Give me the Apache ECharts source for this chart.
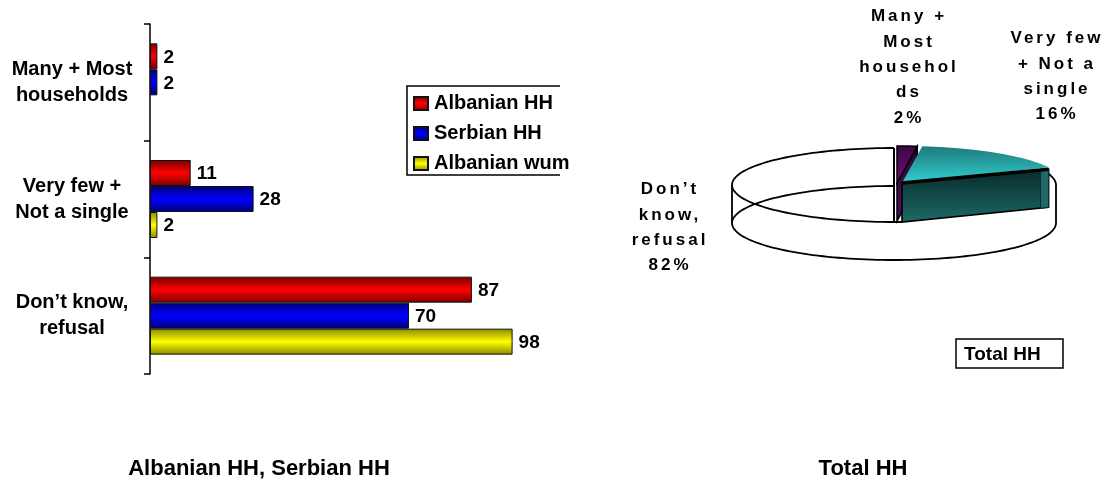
<!DOCTYPE html>
<html><head><meta charset="utf-8">
<style>html,body{margin:0;padding:0;background:#fff}#c{width:1107px;height:479px}</style>
<script src="https://cdn.jsdelivr.net/npm/echarts@6/dist/echarts.min.js"></script>
</head><body><div id="c"></div>
<script>
const categories = ['Many + Most\nhouseholds', 'Very few +\nNot a single', 'Don’t know,\nrefusal'];
const albanianHH = [2, 11, 87];
const serbianHH = [2, 28, 70];
const albanianWum = [null, 2, 98];
const pieNames = ['Many +\nMost\nhousehol\nds', 'Very few\n+ Not a\nsingle', 'Don’t\nknow,\nrefusal'];
const pieValues = [2, 16, 82];
const leftTitle = 'Albanian HH, Serbian HH';
const rightTitle = 'Total HH';

const FONT = '"Liberation Sans", Arial, sans-serif';
const chart = echarts.init(document.getElementById('c'), null, {renderer: 'canvas'});
// spaced pie labels live on their own canvas layer
chart.getZr().painter.getLayer(5).ctx.letterSpacing = '3px';

const LG = echarts.graphic.LinearGradient;
const vg = (a, b, c) => new LG(0, 0, 0, 1, c ? [{offset:0,color:a},{offset:.5,color:b},{offset:1,color:c}] : [{offset:0,color:a},{offset:1,color:b}]);

function barSeries(name, data, dark, mid) {
  return {
    name, type: 'bar', data, barWidth: 26, barGap: 0, barCategoryGap: 0,
    itemStyle: {color: vg(dark, mid, dark), borderColor: '#111', borderWidth: 1},
    label: {show: true, position: 'right', distance: 6, offset: [0, 1], color: '#000', fontFamily: FONT, fontWeight: 'bold', fontSize: 19},
    emphasis: {disabled: true}
  };
}

// pie geometry
const CX = 894, CY = 185, RX = 162, RY = 37, DEPTH = 38;
const total = pieValues.reduce((a, b) => a + b, 0);
const rim = (deg, dx, dy) => {
  const r = deg * Math.PI / 180;
  return [CX + (dx||0) + RX * Math.sin(r), CY + (dy||0) - RY * Math.cos(r)];
};
const arc = (from, to, dx, dy) => {
  const pts = [];
  for (let a = from; a <= to + 1e-6; a += 2) pts.push(rim(Math.min(a, to), dx, dy));
  pts.push(rim(to, dx, dy));
  return pts;
};
const line = {stroke: '#000', lineWidth: 1.8, fill: null};

function renderPie(params, api) {
  const i = params.dataIndex;
  let before = 0;
  for (let k = 0; k < i; k++) before += pieValues[k];
  const a0 = before / total * 360;
  const a1 = (before + api.value(0)) / total * 360;
  const kids = [];
  if (i === 0) {
    const dx = 3, dy = -2;
    const apex = [CX + dx, CY + dy];
    const end = rim(a1, dx, dy);
    kids.push({type:'polygon', z2:3, shape:{points:[apex, end, [end[0], end[1]+DEPTH], [apex[0], apex[1]+DEPTH]]},
      style:{fill:vg('#2a0630','#5a0a60'), stroke:'#000', lineWidth:1.5}});
    kids.push({type:'polygon', z2:4, shape:{points:[apex].concat(arc(a0, a1, dx, dy))},
      style:{fill:vg('#3a0640','#7a0a80'), stroke:'#000', lineWidth:1.5}});
  } else if (i === 1) {
    const dx = 8, dy = -2;
    const apex = [CX + dx, CY + dy];
    const end = rim(a1, dx, 0);
    const fbot = [end[0], end[1] + DEPTH];
    kids.push({type:'polygon', z2:6, shape:{points:[apex, end, fbot, [apex[0], apex[1]+DEPTH+1]]},
      style:{fill:vg('#062a28','#1f6a68'), stroke:'#000', lineWidth:1.6}});
    kids.push({type:'polygon', z2:7, shape:{points:[[end[0]-8, end[1]], end, fbot, [end[0]-8, fbot[1]+1]]},
      style:{fill:'#20696a', stroke:'#0a3030', lineWidth:1}});
    kids.push({type:'polygon', z2:8, shape:{points:[apex].concat(arc(a0, a1, dx, dy))},
      style:{fill:new LG(0,0,0,1,[{offset:0,color:'#1f7a7c'},{offset:1,color:'#30cfcf'}]), stroke:'#000', lineWidth:0}});
    kids.push({type:'polyline', z2:9, shape:{points:[apex, end]}, style:{stroke:'#000', lineWidth:3.5, fill:null}});
  } else {
    // open outline of the unfilled slice: top rim, bottom rim, walls
    kids.push({type:'polyline', z2:1, shape:{points:arc(a0, 90)}, style:line});
    kids.push({type:'polyline', z2:1, shape:{points:arc(180, 360)}, style:line});
    kids.push({type:'polyline', z2:1, shape:{points:arc(90, 270, 0, DEPTH)}, style:line});
    kids.push({type:'polyline', z2:1, shape:{points:arc(270, 360, 0, DEPTH)}, style:line});
    kids.push({type:'line', z2:1, shape:{x1:CX-RX,y1:CY,x2:CX-RX,y2:CY+DEPTH}, style:line});
    kids.push({type:'line', z2:1, shape:{x1:CX+RX,y1:CY,x2:CX+RX,y2:CY+DEPTH}, style:line});
    kids.push({type:'line', z2:1, shape:{x1:CX,y1:CY-RY,x2:CX,y2:CY+RY}, style:{stroke:'#000',lineWidth:2}});
    kids.push({type:'line', z2:1, shape:{x1:CX,y1:CY+RY,x2:CX+8,y2:CY+RY}, style:{stroke:'#000',lineWidth:2}});
  }
  return {type:'group', children:kids};
}

const labelAnchors = [[909, 15], [1057, 37], [670, 188]];
function renderPieLabel(params, api) {
  const i = params.dataIndex;
  return {type:'text', x:labelAnchors[i][0], y:labelAnchors[i][1]-11,
    style:{text:pieNames[i] + '\n' + api.value(0) + '%', align:'center', verticalAlign:'top',
      font:'bold 17px ' + FONT, lineHeight:25.3, fill:'#000'}};
}

chart.setOption({
  animation: false,
  backgroundColor: '#fff',
  title: [
    {text:leftTitle, left:254, top:453, textAlign:'center', textStyle:{fontFamily:FONT,fontSize:22,fontWeight:'bold',color:'#000'}},
    {text:rightTitle, left:858, top:453, textAlign:'center', textStyle:{fontFamily:FONT,fontSize:22,fontWeight:'bold',color:'#000'}}
  ],
  legend: {
    orient:'vertical', left:408, top:87, itemWidth:14, itemHeight:13, itemGap:7, icon:'rect', selectedMode:false,
    data:['Albanian HH','Serbian HH','Albanian wum'],
    textStyle:{fontFamily:FONT,fontSize:20,fontWeight:'bold',color:'#000',lineHeight:23,padding:[0,0,0,1]}
  },
  grid: {left:150, top:24, width:370, height:350, containLabel:false},
  xAxis: {type:'value', min:0, max:100, show:false},
  yAxis: {
    type:'category', inverse:true, data:categories,
    axisLine:{show:true,lineStyle:{color:'#000',width:1.5}},
    axisTick:{show:true,length:6,lineStyle:{color:'#000',width:1.5}},
    axisLabel:{color:'#000',fontFamily:FONT,fontWeight:'bold',fontSize:20,lineHeight:26,align:'center',margin:78,interval:0,padding:[2,0,0,0]}
  },
  series: [
    barSeries('Albanian HH', albanianHH, '#7a0000', '#ff0000'),
    barSeries('Serbian HH', serbianHH, '#00007a', '#0000ff'),
    barSeries('Albanian wum', albanianWum, '#8a8a00', '#ffff00'),
    {type:'custom', coordinateSystem:'none', renderItem:renderPie, data:pieValues.map(v=>[v]), silent:true, z:3},
    {type:'custom', coordinateSystem:'none', renderItem:renderPieLabel, data:pieValues.map(v=>[v]), silent:true, zlevel:5}
  ],
  graphic: [
    {type:'polyline', shape:{points:[[560,86],[407,86],[407,175],[560,175]]}, style:{stroke:'#000',lineWidth:1.5,fill:null}, silent:true},
    {type:'rect', shape:{x:956,y:339,width:107,height:29}, style:{stroke:'#000',lineWidth:1.5,fill:'#fff'}, silent:true},
    {type:'text', x:964, y:345, style:{text:'Total HH', font:'bold 19px '+FONT, fill:'#000'}, silent:true}
  ]
});
</script></body></html>
